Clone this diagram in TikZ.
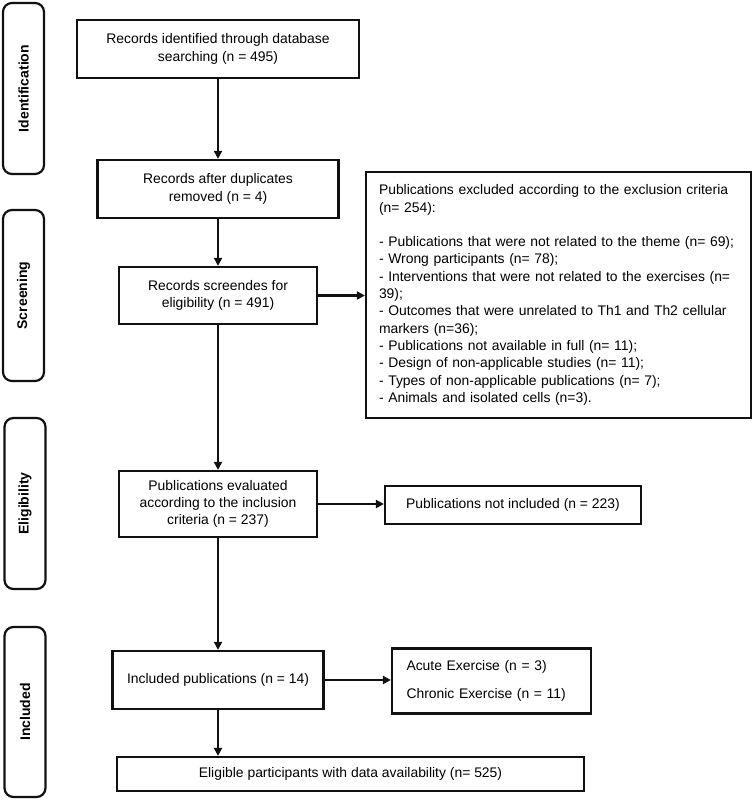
\documentclass[tikz,border=0pt]{standalone}
\usepackage{fontspec}
\setmainfont{Liberation Sans}
\usepackage{tikz}
\usetikzlibrary{arrows.meta, positioning, calc}
\definecolor{FlowBlack}{HTML}{111111}

\tikzset{
    flowbox/.style={rectangle, draw=FlowBlack, line width=2.2pt, align=center,
        font=\fontsize{13.9}{17.3}\selectfont, inner sep=4pt},
    listbox/.style={flowbox, align=left},
    phase/.style={rectangle, rounded corners=9pt, draw=FlowBlack, line width=2.2pt,
        rotate=90, minimum height=41pt, font=\bfseries\fontsize{14}{16}\selectfont},
    flowarrow/.style={draw=FlowBlack, line width=2.2pt, -{Triangle[length=8pt, width=8pt]}}
}

\begin{document}
\begin{tikzpicture}[x=1pt, y=-1pt]
    \useasboundingbox (0,0) rectangle (754,800);

    % phase labels on the left
    \node[phase, minimum width=171pt] (ident) at (23.5,88.5) {Identification};
    \node[phase, minimum width=171pt] (screen) at (23.5,295.5) {Screening};
    \node[phase, minimum width=171pt] (elig) at (25,503.5) {Eligibility};
    \node[phase, minimum width=170pt] (incl) at (25,712) {Included};

    % main column
    \node[flowbox, minimum width=282pt, minimum height=58pt] (found) at (218,49)
        {Records identified through database\\searching (n = 495)};
    \node[flowbox, minimum width=241pt, minimum height=58pt] (dedup) at (218,189)
        {Records after duplicates\\removed (n = 4)};
    \node[flowbox, minimum width=198pt, minimum height=57pt] (screened) at (218,295.5)
        {Records screendes for\\eligibility (n = 491)};
    \node[flowbox, minimum width=198pt, minimum height=66pt] (evaluated) at (218,504)
        {Publications evaluated\\according to the inclusion\\criteria (n = 237)};
    \node[flowbox, minimum width=211pt, minimum height=58pt] (included) at (218,680)
        {Included publications (n = 14)};
    \node[flowbox, minimum width=467pt, minimum height=34pt] (eligible) at (350.5,774)
        {Eligible participants with data availability (n= 525)};

    % side boxes
    \node[listbox, minimum width=385pt, minimum height=244pt, text width=359pt,
          inner sep=13pt] (excluded) at (558.5,295)
        {Publications excluded according to the exclusion criteria\\
         (n= 254):\\[17.3pt]
         - Publications that were not related to the theme (n= 69);\\
         - Wrong participants (n= 78);\\
         - Interventions that were not related to the exercises (n=\\
         39);\\
         - Outcomes that were unrelated to Th1 and Th2 cellular\\
         markers (n=36);\\
         - Publications not available in full (n= 11);\\
         - Design of non-applicable studies (n= 11);\\
         - Types of non-applicable publications (n= 7);\\
         - Animals and isolated cells (n=3).};
    \node[flowbox, minimum width=256pt, minimum height=38pt] (notincl) at (513,505)
        {Publications not included (n = 223)};
    \node[listbox, minimum width=199pt, minimum height=65pt, text width=170pt,
          inner sep=0pt] (groups) at (491.5,681)
        {Acute Exercise (n = 3)\\[10.7pt]
         Chronic Exercise (n = 11)};

    % connectors
    \draw[flowarrow] (found) -- (dedup);
    \draw[flowarrow] (dedup) -- (screened);
    \draw[flowarrow] (screened) -- (evaluated);
    \draw[flowarrow] (evaluated) -- (included);
    \draw[flowarrow] (screened.east) -- (screened.east -| excluded.west);
    \draw[flowarrow] (evaluated.east) -- (evaluated.east -| notincl.west);
    \draw[flowarrow] (included.east) -- (included.east -| groups.west);
    \draw[flowarrow] (included.south) -- (included.south |- eligible.north);
\end{tikzpicture}
\end{document}
